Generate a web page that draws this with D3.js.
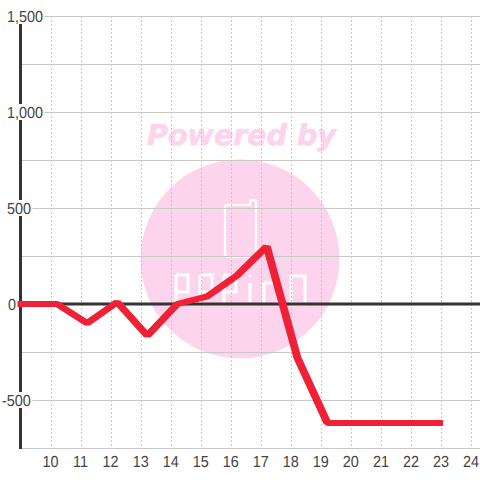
<!DOCTYPE html>
<html>
<head>
<meta charset="utf-8">
<script src="https://cdn.jsdelivr.net/npm/d3@7"></script>
<style>
html, body { margin: 0; padding: 0; background: #fff; }
svg { display: block; }
text { font-family: "Liberation Sans", sans-serif; text-rendering: geometricPrecision; }
</style>
</head>
<body>
<svg width="480" height="480"></svg>
<script>
const hours = [8.9, 10.22, 11.22, 12.22, 13.22, 14.22, 15.22, 16.22, 17.2, 18.22, 19.22, 20.22, 21.22, 22.22, 23.07];
const values = [0, 0, -100, 10, -165, 0, 40, 150, 300, -280, -620, -620, -620, -620, -620];
const xTicks = [10, 11, 12, 13, 14, 15, 16, 17, 18, 19, 20, 21, 22, 23, 24];
const yGrid = [-750, -500, -250, 0, 250, 500, 750, 1000, 1250, 1500];
const yLabels = [-500, 0, 500, 1000, 1500];

const svg = d3.select("svg");
const x = d3.scaleLinear().domain([9, 24.3]).range([20.5, 480]);
const y = d3.scaleLinear().domain([-750, 1500]).range([448, 16]);

// Watermark
svg.append("text")
    .attr("x", 241.5).attr("y", 145)
    .attr("text-anchor", "middle")
    .style("font-family", "DejaVu Sans")
    .style("font-size", "28.5px")
    .style("font-weight", "bold")
    .style("font-style", "italic")
    .attr("fill", "#fcd5ec")
    .attr("stroke", "#fcd5ec")
    .attr("stroke-width", 0.7)
    .text("Powered by");

svg.append("circle")
    .attr("cx", 240).attr("cy", 259).attr("r", 99.5)
    .attr("fill", "#fcd5ec");

svg.append("path")
    .attr("d", "M228 205H250V201.5Q250 200 253 200Q256 200 256 202V254Q256 257 253 257H228Q225 257 225 254V208Q225 205 228 205Z")
    .attr("fill", "none")
    .attr("stroke", "#fff")
    .attr("stroke-width", 2.2);

// Logo letters
const logoP = "h12v17h-12m0 -17v30";
const logoO = "h14v28h-14z";
[
    `M176 275${logoP}`, `M200 275${logoP}`, `M224 275${logoP}`,
    "M250 283v22M250 275v2",
    "M264 283h14v22M264 283v22",
    `M291 276${logoO}`
].forEach(d => {
    svg.append("path")
        .attr("d", d)
        .attr("fill", "none")
        .attr("stroke", "#fff")
        .attr("stroke-width", 3);
});

// Grid
svg.append("g").selectAll("line")
    .data(yGrid)
    .enter().append("line")
    .attr("x1", 20).attr("x2", 480)
    .attr("y1", d => Math.round(y(d)) + 0.5)
    .attr("y2", d => Math.round(y(d)) + 0.5)
    .attr("stroke", "#c8c8c8")
    .attr("stroke-width", 1);

svg.append("g").selectAll("line")
    .data(xTicks)
    .enter().append("line")
    .attr("x1", d => Math.round(x(d)) + 0.5)
    .attr("x2", d => Math.round(x(d)) + 0.5)
    .attr("y1", 16).attr("y2", 448)
    .attr("stroke", "#c8c8c8")
    .attr("stroke-dasharray", "2,2");

// Axes lines
svg.append("line")
    .attr("x1", 20).attr("x2", 480)
    .attr("y1", y(0)).attr("y2", y(0))
    .attr("stroke", "#333").attr("stroke-width", 3);
svg.append("line")
    .attr("x1", 20.5).attr("x2", 20.5)
    .attr("y1", 16).attr("y2", 449)
    .attr("stroke", "#333").attr("stroke-width", 3);

// Tick labels, squeezed a bit horizontally like the original
const fmt = d3.format(",");
const squeeze = 0.9;
svg.append("g").selectAll("text")
    .data(xTicks)
    .enter().append("text")
    .attr("transform", d => `translate(${x(d)},467) scale(${squeeze},1)`)
    .attr("text-anchor", "middle")
    .attr("fill", "#444")
    .style("font-size", "16px")
    .text(d => d);

const yText = svg.append("g").selectAll("g")
    .data(yLabels)
    .enter().append("g")
    .attr("transform", d => `translate(${d < 0 ? 2 : d === 0 ? 8 : 7},${y(d)})`);
yText.append("rect")
    .attr("y", -8).attr("height", 16)
    .attr("fill", "#fff");
yText.append("text")
    .attr("transform", `translate(0,6) scale(${squeeze},1)`)
    .attr("fill", "#444")
    .style("font-size", "16px")
    .text(d => fmt(d).replace("\u2212", "-"));
yText.select("rect")
    .attr("width", function() {
        return this.parentNode.querySelector("text").getComputedTextLength() * squeeze + 1.5;
    });

// Series, drawn in a flattened group so the stroke is thicker on the slopes
const flat = 0.75;
const line = d3.line().x((d, i) => x(hours[i])).y(d => y(d) / flat);
svg.append("g")
    .attr("transform", `scale(1,${flat})`)
    .append("path")
    .attr("d", line(values))
    .attr("fill", "none")
    .attr("stroke", "#f02036")
    .attr("stroke-width", 8)
    .attr("stroke-linejoin", "bevel");
</script>
</body>
</html>
